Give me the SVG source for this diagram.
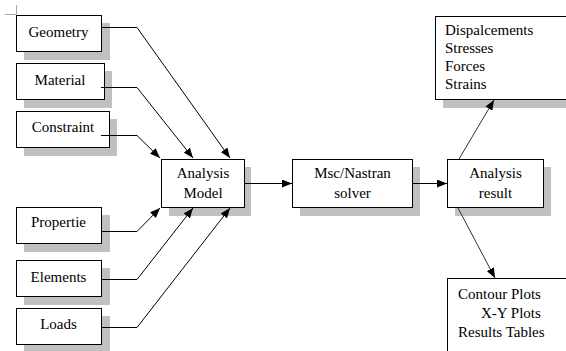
<svg xmlns="http://www.w3.org/2000/svg" width="566" height="351" viewBox="0 0 566 351">
<style>
.box{fill:#fff;stroke:#000;stroke-width:1}
.sh{fill:#c0c0c0;stroke:none}
.c{text-anchor:middle}
.ln{fill:none;stroke:#000;stroke-width:1}
.gl{fill:none;stroke:#333;stroke-width:1}
</style>
<defs>
<marker id="ah" viewBox="0 0 10 8" refX="10" refY="4" markerWidth="10" markerHeight="8" markerUnits="userSpaceOnUse" orient="auto">
<path d="M0,0 L10,4 L0,8 Z" fill="#000"/>
</marker>
</defs>
<rect width="566" height="351" fill="#fff"/>
<path d="M5,14.5 H16.5 V5" fill="none" stroke="#a8a8a8" stroke-width="1"/>
<g font-family="Liberation Serif" font-size="15" fill="#000">
<g id="geometry">
<rect class="sh" x="24" y="23" width="86" height="37"/>
<rect class="box" x="16.5" y="15.5" width="85" height="36"/>
<text class="c" x="58.5" y="37">Geometry</text>
</g>
<g id="material">
<rect class="sh" x="24" y="71" width="88" height="37"/>
<rect class="box" x="16.5" y="63.5" width="88" height="36"/>
<text class="c" x="60" y="85">Material</text>
</g>
<g id="constraint">
<rect class="sh" x="24" y="119" width="93" height="37"/>
<rect class="box" x="16.5" y="111.5" width="93" height="36"/>
<text class="c" x="63" y="132">Constraint</text>
</g>
<g id="propertie">
<rect class="sh" x="24" y="215" width="86" height="37"/>
<rect class="box" x="16.5" y="207.5" width="85" height="36"/>
<text class="c" x="58.5" y="227">Propertie</text>
</g>
<g id="elements">
<rect class="sh" x="24" y="268" width="86" height="37"/>
<rect class="box" x="16.5" y="260.5" width="85" height="36"/>
<text class="c" x="58.5" y="282">Elements</text>
</g>
<g id="loads">
<rect class="sh" x="24" y="316" width="86" height="37"/>
<rect class="box" x="16.5" y="308.5" width="85" height="36"/>
<text class="c" x="58.5" y="329">Loads</text>
</g>
<g id="analysis-model">
<rect class="sh" x="169" y="167" width="82" height="49"/>
<rect class="box" x="161.5" y="159.5" width="83" height="48"/>
<text class="c" x="203" y="178">Analysis</text>
<text class="c" x="203" y="198">Model</text>
</g>
<g id="solver">
<rect class="sh" x="300" y="167" width="120" height="49"/>
<rect class="box" x="292.5" y="159.5" width="120" height="48"/>
<text class="c" x="352.5" y="178">Msc/Nastran</text>
<text class="c" x="352.5" y="198">solver</text>
</g>
<g id="analysis-result">
<rect class="sh" x="455" y="167" width="96" height="49"/>
<rect class="box" x="447.5" y="159.5" width="96" height="48"/>
<text class="c" x="495.5" y="178">Analysis</text>
<text class="c" x="495.5" y="198">result</text>
</g>
<g id="results-list">
<rect class="sh" x="443" y="24" width="140" height="84"/>
<rect class="box" x="435.5" y="16.5" width="140" height="83"/>
<text x="445" y="35">Dispalcements</text>
<text x="445" y="53">Stresses</text>
<text x="445" y="71">Forces</text>
<text x="445" y="89">Strains</text>
</g>
<g id="plots">
<rect class="box" x="447.5" y="278.5" width="130" height="90"/>
<text x="458" y="299">Contour Plots</text>
<text x="481" y="318">X-Y Plots</text>
<text x="458" y="337">Results Tables</text>
</g>
</g>
<g id="connectors">
<path class="ln" d="M101,27.5 H137 L230,158" marker-end="url(#ah)"/>
<path class="ln" d="M101,87.5 H137 L193,158" marker-end="url(#ah)"/>
<path class="ln" d="M101,135.5 H137 L160,158" marker-end="url(#ah)"/>
<path class="ln" d="M101,231.5 H137 L160,208" marker-end="url(#ah)"/>
<path class="ln" d="M101,279.5 H137 L193,208" marker-end="url(#ah)"/>
<path class="ln" d="M101,327.5 H137 L230,208" marker-end="url(#ah)"/>
<path class="ln" d="M245,183.5 H292" marker-end="url(#ah)"/>
<path class="ln" d="M413,183.5 H447" marker-end="url(#ah)"/>
<path class="gl" d="M459,159 L494,100" marker-end="url(#ah)"/>
<path class="gl" d="M458,208 L495,278" marker-end="url(#ah)"/>
</g>
</svg>
